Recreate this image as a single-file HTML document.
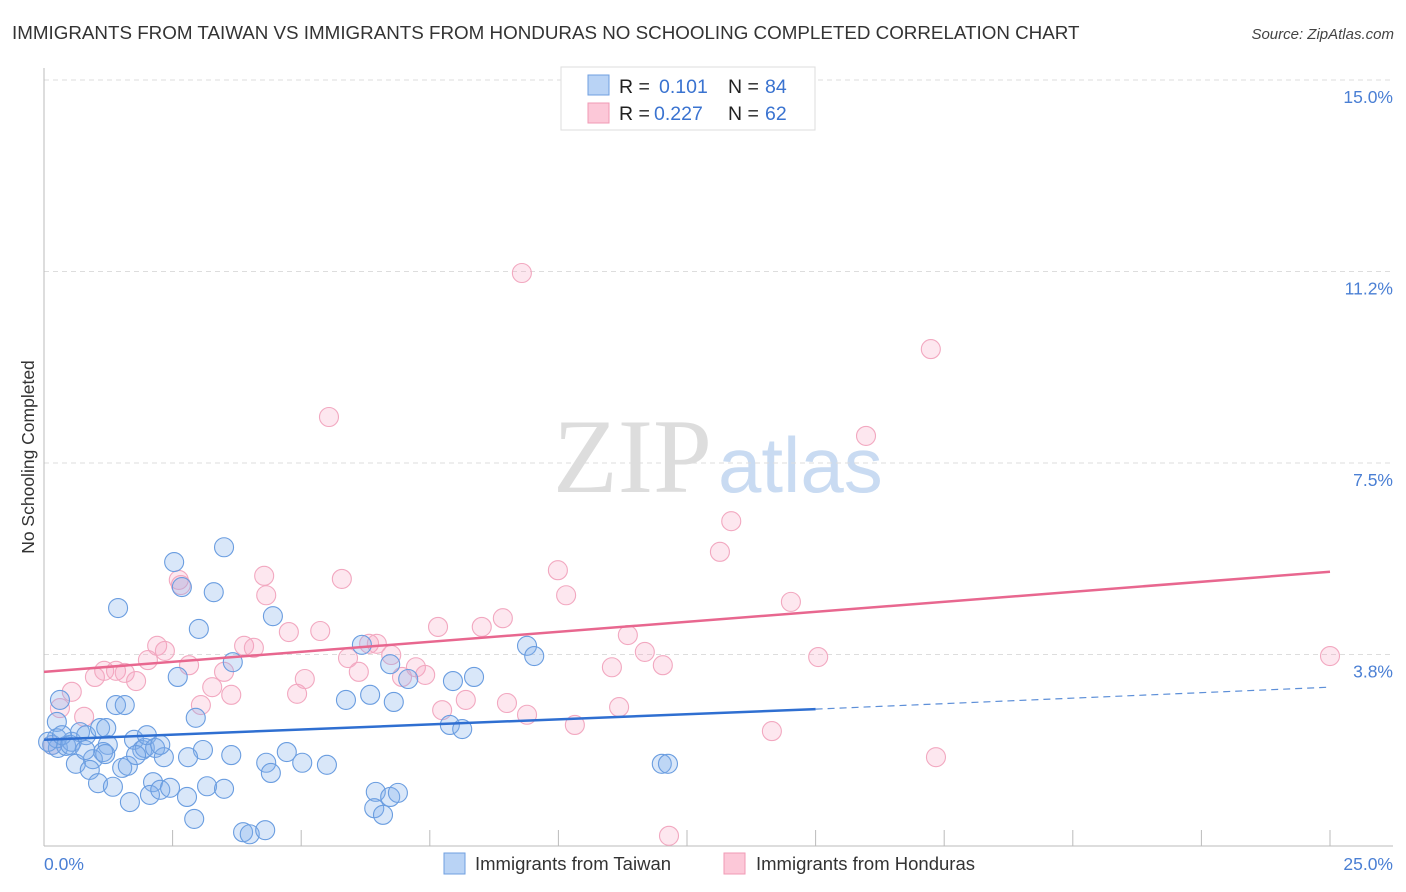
<!DOCTYPE html>
<html><head><meta charset="utf-8">
<style>
body{margin:0;background:#fff;font-family:"Liberation Sans",sans-serif;}
svg{display:block}
</style></head>
<body>
<svg width="1406" height="892" xmlns="http://www.w3.org/2000/svg" font-family="Liberation Sans, sans-serif">
<text x="12" y="39" font-size="18.8" fill="#333">IMMIGRANTS FROM TAIWAN VS IMMIGRANTS FROM HONDURAS NO SCHOOLING COMPLETED CORRELATION CHART</text>
<text x="1394" y="39" font-size="15" fill="#444" text-anchor="end" font-style="italic">Source: ZipAtlas.com</text>
<g>
<text x="553" y="492" font-size="106" fill="#ddd" font-family="Liberation Serif, serif">ZIP</text>
<text x="718" y="492" font-size="78" fill="#c9dbf2">atlas</text>
</g>
<g id="grid"></g>
<line x1="44" y1="68" x2="44" y2="846" stroke="#bbb"/>
<line x1="44" y1="846" x2="1393" y2="846" stroke="#bbb"/>
<g id="ticks"></g>
<text transform="translate(34,457) rotate(-90)" font-size="17.5" fill="#333" text-anchor="middle">No Schooling Completed</text>
<text x="44" y="870" font-size="17.5" fill="#4a7fd4">0.0%</text>
<text x="1393" y="870" font-size="17.5" fill="#4a7fd4" text-anchor="end">25.0%</text>
<g id="pts"></g>
<g id="lines"></g>
<g>
<rect x="561" y="67" width="254" height="63" fill="#fff" stroke="#ddd"/>
<rect x="588" y="75" width="21" height="20" fill="#b9d3f5" stroke="#6f9fe0"/>
<rect x="588" y="103" width="21" height="20" fill="#fcc8d8" stroke="#f09ab5"/>
<text x="619" y="93" font-size="19.5" fill="#222">R = </text><text x="659" y="93" font-size="19.5" fill="#3a73d0">0.101</text>
<text x="728" y="93" font-size="19.5" fill="#222">N = </text><text x="765" y="93" font-size="19.5" fill="#3a73d0">84</text>
<text x="619" y="120" font-size="19.5" fill="#222">R = </text><text x="654" y="120" font-size="19.5" fill="#3a73d0">0.227</text>
<text x="728" y="120" font-size="19.5" fill="#222">N = </text><text x="765" y="120" font-size="19.5" fill="#3a73d0">62</text>
</g>
<g>
<rect x="444" y="853" width="21" height="21" fill="#b9d3f5" stroke="#6f9fe0"/>
<text x="475" y="870" font-size="18.5" fill="#333">Immigrants from Taiwan</text>
</g>
<g>
<rect x="724" y="853" width="21" height="21" fill="#fcc8d8" stroke="#f09ab5"/>
<text x="756" y="870" font-size="18.5" fill="#333">Immigrants from Honduras</text>
</g>
</svg>
<script>
const yTicks=[15,11.25,7.5,3.75];
const yTickLabels=["15.0%","11.2%","7.5%","3.8%"];
const xTicks=[2.5,5,7.5,10,12.5,15,17.5,20,22.5,25];
const taiwanX=[0.31,0.25,0.16,0.27,0.43,0.54,0.70,0.82,1.09,1.44,1.40,1.57,1.24,1.15,0.95,0.62,0.89,1.05,1.19,1.52,1.63,1.34,1.67,1.75,1.91,1.96,2.00,2.16,2.12,2.06,2.26,2.45,2.53,2.68,2.60,2.33,2.78,2.92,2.95,3.01,3.09,3.17,3.30,3.50,3.50,3.67,3.64,3.87,4.00,4.30,4.32,4.41,4.45,4.72,5.02,5.50,5.87,6.18,6.34,6.45,6.42,6.59,6.73,6.73,6.88,6.80,7.08,7.95,7.89,8.13,8.36,9.39,9.53,12.01,12.13,0.25,0.08,0.35,0.51,0.80,1.79,2.26,2.80,1.21];
const taiwanY=[2.86,2.43,1.98,1.92,1.96,2.04,2.23,2.17,2.31,4.66,2.76,2.76,1.98,1.84,1.70,1.61,1.49,1.23,1.80,1.53,1.57,1.16,0.86,2.08,1.88,1.92,2.17,1.92,1.25,1.00,1.10,1.14,5.56,5.07,3.31,1.74,0.96,0.53,2.51,4.25,1.88,1.17,4.97,5.85,1.12,3.60,1.78,0.27,0.23,0.31,1.63,1.43,4.50,1.84,1.63,1.59,2.86,3.94,2.96,1.06,0.74,0.61,3.56,0.96,1.04,2.82,3.27,3.23,2.37,2.29,3.31,3.92,3.72,1.61,1.61,2.11,2.04,2.17,1.98,1.88,1.78,1.98,1.74,2.31];
const hondurasX=[0.16,0.31,0.54,0.78,0.99,1.17,1.40,1.57,1.79,2.02,2.20,2.35,2.62,2.66,2.82,3.05,3.27,3.50,3.64,3.89,4.08,4.28,4.32,4.76,4.92,5.07,5.37,5.54,5.79,5.91,6.12,6.32,6.47,6.75,6.96,7.23,7.41,7.66,7.74,8.20,8.51,8.92,9.00,9.39,9.29,9.99,10.15,10.32,11.04,11.18,11.35,11.68,12.03,12.15,13.14,13.36,14.15,14.52,15.05,15.98,17.24,17.34,25.0];
const hondurasY=[1.98,2.70,3.02,2.53,3.31,3.43,3.43,3.39,3.23,3.64,3.92,3.82,5.21,5.11,3.54,2.76,3.11,3.41,2.96,3.92,3.88,5.29,4.91,4.19,2.98,3.27,4.21,8.40,5.23,3.68,3.41,3.96,3.96,3.74,3.31,3.50,3.35,4.29,2.66,2.86,4.29,4.46,2.80,2.57,11.22,5.40,4.91,2.37,3.50,2.72,4.13,3.80,3.54,0.20,5.76,6.36,2.25,4.78,3.70,8.03,9.73,1.74,3.72];
const taiwanTrend=[[0,2.08],[15,2.68]];
const taiwanTrendExt=[[15,2.68],[25,3.11]];
const hondurasTrend=[[0,3.41],[25,5.37]];
const NS="http://www.w3.org/2000/svg";
const sx=v=>44+v*51.44, sy=v=>846-v*51.07;
function mk(tag,attrs,parent){const e=document.createElementNS(NS,tag);for(const k in attrs)e.setAttribute(k,attrs[k]);parent.appendChild(e);return e;}
const grid=document.getElementById('grid');
yTicks.forEach((t,i)=>{
  const l=mk('line',{x1:44,x2:1393,y1:sy(t),y2:sy(t),stroke:'#ddd','stroke-dasharray':'5,4'},grid);
  
  
  const tx=mk('text',{x:1393,y:sy(t)+23,'font-size':17.5,fill:'#4a7fd4','text-anchor':'end'},grid);
  tx.textContent=yTickLabels[i];
  
  
});
const tk=document.getElementById('ticks');
xTicks.forEach(t=>{
  const l=mk('line',{x1:sx(t),x2:sx(t),y1:830,y2:846,stroke:'#bbb'},tk);
  
  
});
const pts=document.getElementById('pts');
hondurasX.forEach((x,i)=>{
  const c=mk('circle',{cx:sx(x),cy:sy(hondurasY[i]),r:9.5,fill:'rgba(246,160,190,0.25)',stroke:'#f2a8c0','stroke-width':1.1},pts);
  
  
});
taiwanX.forEach((x,i)=>{
  const c=mk('circle',{cx:sx(x),cy:sy(taiwanY[i]),r:9.5,fill:'rgba(130,175,235,0.3)',stroke:'#6a9de0','stroke-width':1.1},pts);
  
  
});
const lines=document.getElementById('lines');
let l1=mk('line',{x1:sx(hondurasTrend[0][0]),y1:sy(hondurasTrend[0][1]),x2:sx(hondurasTrend[1][0]),y2:sy(hondurasTrend[1][1]),stroke:'#e8678f','stroke-width':2.5},lines);


let l2=mk('line',{x1:sx(taiwanTrend[0][0]),y1:sy(taiwanTrend[0][1]),x2:sx(taiwanTrend[1][0]),y2:sy(taiwanTrend[1][1]),stroke:'#2f6fd1','stroke-width':2.5},lines);


let l3=mk('line',{x1:sx(taiwanTrendExt[0][0]),y1:sy(taiwanTrendExt[0][1]),x2:sx(taiwanTrendExt[1][0]),y2:sy(taiwanTrendExt[1][1]),stroke:'#5d8fd8','stroke-width':1.2,'stroke-dasharray':'7,5'},lines);


</script>
</body></html>
